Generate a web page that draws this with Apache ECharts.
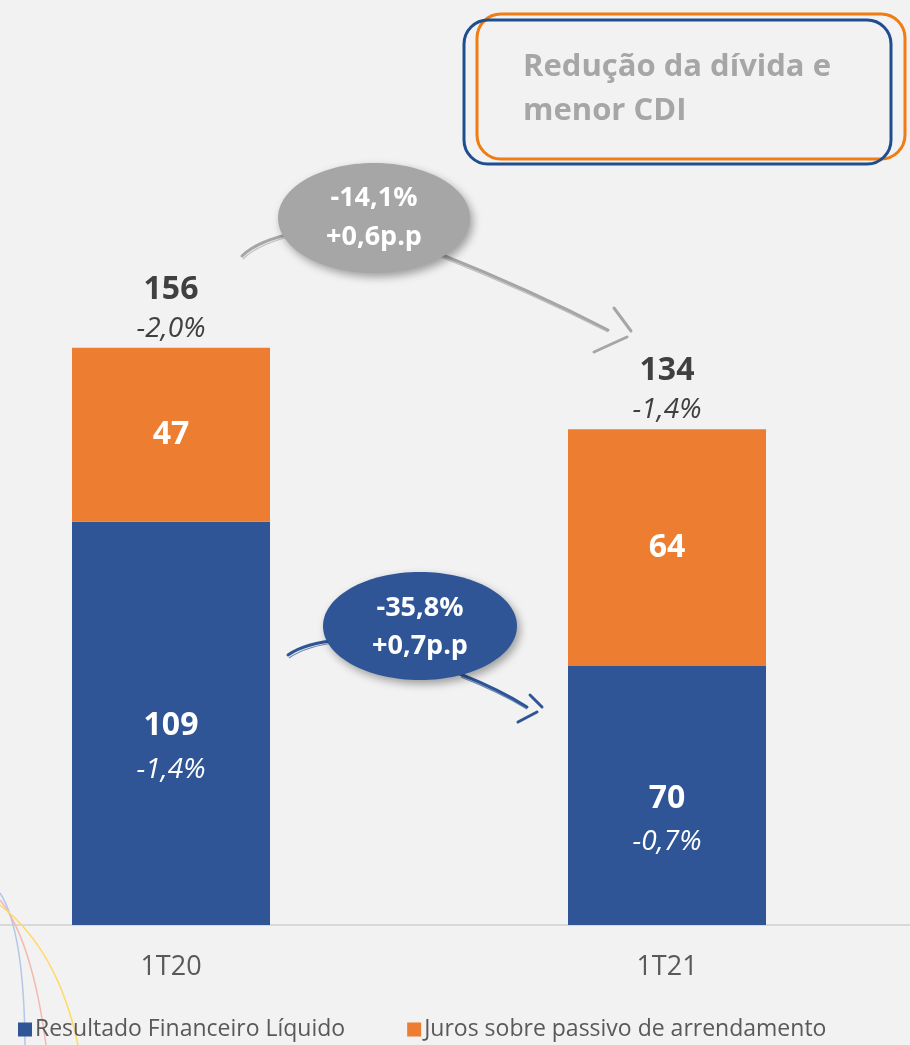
<!DOCTYPE html>
<html>
<head>
<meta charset="utf-8">
<script src="https://cdn.jsdelivr.net/npm/echarts@6/dist/echarts.min.js"></script>
<style>
html,body{margin:0;padding:0;background:#f2f2f2;}
#chart{width:910px;height:1045px;}
</style>
</head>
<body>
<div id="chart"></div>
<script>
const categories = ['1T20', '1T21'];
const resultadoValues = [109, 70];
const resultadoPct = ['-1,4%', '-0,7%'];
const jurosValues = [47, 64];
const totalValues = [156, 134];
const totalPct = ['-2,0%', '-1,4%'];
const seriesNames = ['Resultado Financeiro Líquido', 'Juros sobre passivo de arrendamento'];
const bubbleGray = ['-14,1%', '+0,6p.p'];
const bubbleBlue = ['-35,8%', '+0,7p.p'];
const boxText = ['Redução da dívida e', 'menor CDI'];

const FONT = '"Open Sans", "Noto Sans", sans-serif';
const BLUE = '#2f5597';
const ORANGE = '#ed7d31';
const GRAY = '#a6a6a6';

const chart = echarts.init(document.getElementById('chart'));

function brush(x1, y1, cx, cy, x2, y2, color) {
  return [
    { type: 'bezierCurve', shape: { x1: x1, y1: y1, cpx1: cx, cpy1: cy, x2: x2, y2: y2 }, style: { stroke: color, lineWidth: 3, fill: null, lineCap: 'round' } },
    { type: 'bezierCurve', shape: { x1: x1 + 1, y1: y1 + 3, cpx1: cx + 1, cpy1: cy + 3, x2: x2, y2: y2 + 2 }, style: { stroke: color, lineWidth: 1.2, fill: null, opacity: 0.7 } }
  ];
}
function stroke(x1, y1, x2, y2, color, w) {
  return { type: 'line', shape: { x1: x1, y1: y1, x2: x2, y2: y2 }, style: { stroke: color, lineWidth: w, lineCap: 'round' } };
}

const graphics = [
  // decorative arcs
  { type: 'bezierCurve', shape: { x1: 0, y1: 893, cpx1: 24, cpy1: 930, x2: 25, y2: 1045 }, style: { stroke: '#b4c7e7', lineWidth: 1.5, fill: null } },
  { type: 'bezierCurve', shape: { x1: 0, y1: 900, cpx1: 32, cpy1: 940, x2: 46, y2: 1045 }, style: { stroke: '#f4b8b0', lineWidth: 1.5, fill: null } },
  { type: 'bezierCurve', shape: { x1: 0, y1: 905, cpx1: 58, cpy1: 950, x2: 78, y2: 1045 }, style: { stroke: '#ffd966', lineWidth: 1.5, fill: null } },
  // callout box
  { type: 'rect', shape: { x: 477, y: 14, width: 428, height: 145, r: 24 }, style: { stroke: '#f07c12', lineWidth: 3, fill: null } },
  { type: 'rect', shape: { x: 464, y: 20, width: 427, height: 144, r: 24 }, style: { stroke: '#1f4e8f', lineWidth: 3, fill: null } },
  { type: 'text', x: 523, y: 67, style: { text: boxText[0], font: 'bold 31px ' + FONT, fill: GRAY, verticalAlign: 'middle' } },
  { type: 'text', x: 523, y: 111, style: { text: boxText[1], font: 'bold 31px ' + FONT, fill: GRAY, verticalAlign: 'middle' } }
];
// gray arrow
graphics.push(...brush(242, 256, 258, 240, 300, 232, GRAY));
graphics.push(...brush(440, 254, 530, 290, 608, 330, GRAY));
graphics.push(stroke(614, 308, 631, 331, GRAY, 3));
graphics.push(stroke(594, 352, 627, 337, GRAY, 3));
// blue arrow
graphics.push(...brush(288, 655, 305, 643, 340, 640, BLUE));
graphics.push(...brush(460, 674, 500, 690, 527, 707, BLUE));
graphics.push(stroke(530, 695, 542, 707, BLUE, 3));
graphics.push(stroke(518, 722, 537, 712, BLUE, 3));
// bubbles
graphics.push({ type: 'ellipse', shape: { cx: 374, cy: 218, rx: 96, ry: 55 }, style: { fill: GRAY, shadowBlur: 8, shadowColor: 'rgba(0,0,0,0.35)', shadowOffsetX: 3, shadowOffsetY: 4 } });
graphics.push({ type: 'text', x: 374, y: 198, style: { text: bubbleGray[0], font: 'bold 27px ' + FONT, fill: '#ffffff', align: 'center', verticalAlign: 'middle' } });
graphics.push({ type: 'text', x: 374, y: 237, style: { text: bubbleGray[1], font: 'bold 27px ' + FONT, fill: '#ffffff', align: 'center', verticalAlign: 'middle' } });
graphics.push({ type: 'ellipse', shape: { cx: 420, cy: 626, rx: 97, ry: 54 }, style: { fill: BLUE, shadowBlur: 8, shadowColor: 'rgba(0,0,0,0.35)', shadowOffsetX: 3, shadowOffsetY: 4 } });
graphics.push({ type: 'text', x: 420, y: 608, style: { text: bubbleBlue[0], font: 'bold 27px ' + FONT, fill: '#ffffff', align: 'center', verticalAlign: 'middle' } });
graphics.push({ type: 'text', x: 420, y: 646, style: { text: bubbleBlue[1], font: 'bold 27px ' + FONT, fill: '#ffffff', align: 'center', verticalAlign: 'middle' } });

const option = {
  backgroundColor: '#f2f2f2',
  animation: false,
  textStyle: { fontFamily: FONT },
  grid: { left: 171, right: 243, top: 185, bottom: 120, containLabel: false },
  legend: {
    left: 13, top: 1013,
    itemWidth: 14, itemHeight: 14, itemGap: 62,
    icon: 'rect',
    data: seriesNames,
    textStyle: { fontFamily: FONT, fontSize: 23, color: '#595959', padding: [0, 0, 0, -2] },
    selectedMode: false
  },
  xAxis: {
    type: 'category', data: categories, boundaryGap: false,
    axisLine: { show: false },
    axisTick: { show: false },
    axisLabel: { fontFamily: FONT, fontSize: 27, color: '#595959', margin: 29 }
  },
  yAxis: { type: 'value', min: 0, max: 200, show: false, splitLine: { show: false } },
  series: [
    {
      name: seriesNames[0], type: 'bar', stack: 'total', barWidth: 198,
      data: resultadoValues, itemStyle: { color: BLUE },
      label: {
        show: true, position: 'inside', offset: [0, 24],
        formatter: p => '{a|' + p.value + '}\n{b|' + resultadoPct[p.dataIndex] + '}',
        rich: {
          a: { fontFamily: FONT, fontSize: 32, fontWeight: 'bold', color: '#fff', lineHeight: 45 },
          b: { fontFamily: FONT, fontSize: 28, fontStyle: 'italic', color: '#fff', lineHeight: 42 }
        }
      }
    },
    {
      name: seriesNames[1], type: 'bar', stack: 'total', barWidth: 198,
      data: jurosValues, itemStyle: { color: ORANGE },
      label: { show: true, position: 'inside', fontFamily: FONT, fontSize: 32, fontWeight: 'bold', color: '#fff' }
    },
    {
      name: 'Total', type: 'scatter', data: totalValues, symbol: 'circle', symbolSize: 0,
      itemStyle: { color: '#404040', opacity: 1 }, silent: true,
      label: {
        show: true, position: 'top', distance: 0, color: '#404040',
        formatter: p => '{a|' + p.value + '}\n{b|' + totalPct[p.dataIndex] + '}',
        rich: {
          a: { fontFamily: FONT, fontSize: 32, fontWeight: 'bold', color: '#404040', lineHeight: 40 },
          b: { fontFamily: FONT, fontSize: 28, fontStyle: 'italic', color: '#404040', lineHeight: 38 }
        }
      }
    }
  ],
  graphic: graphics
};
chart.setOption(option);
// full-width baseline at the value axis zero
const baseY = chart.convertToPixel({ yAxisIndex: 0 }, 0);
graphics.unshift({ type: 'line', z: -1, shape: { x1: 0, y1: baseY, x2: 910, y2: baseY }, style: { stroke: '#d9d9d9', lineWidth: 2 } });
chart.setOption({ graphic: graphics }, { replaceMerge: ['graphic'] });
</script>
</body>
</html>
